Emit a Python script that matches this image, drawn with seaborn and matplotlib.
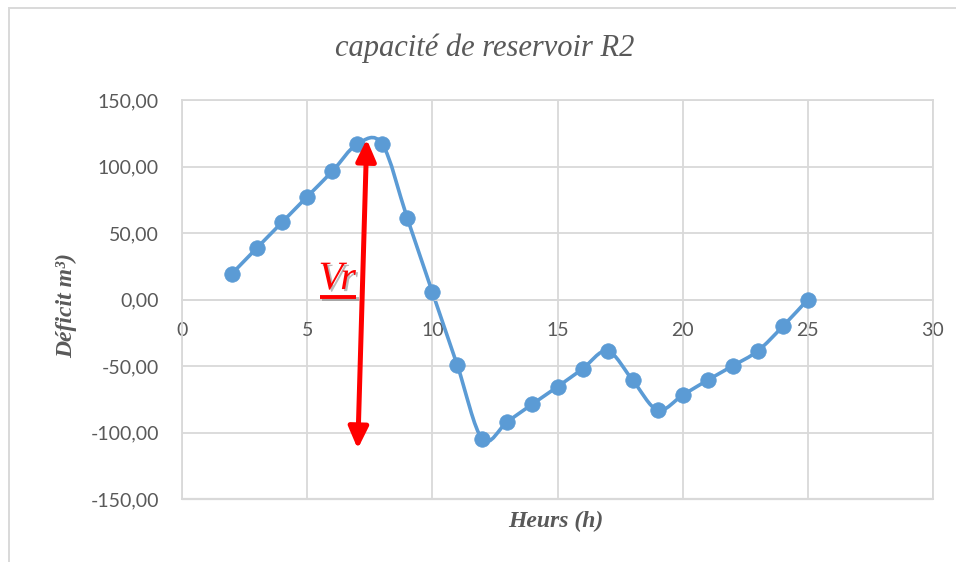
import numpy as np
import matplotlib
matplotlib.use("Agg")
import matplotlib.pyplot as plt
import matplotlib.patheffects as pe
import seaborn as sns
from matplotlib.path import Path
from matplotlib.patches import PathPatch, FancyArrowPatch, Rectangle
from matplotlib.ticker import FuncFormatter, MultipleLocator

# Cumulative deficit of reservoir R2 over the day
hours = [2, 3, 4, 5, 6, 7, 8, 9, 10, 11, 12, 13, 14, 15, 16, 17, 18, 19, 20, 21, 22, 23, 24, 25]
deficit = [19.5, 38.9, 58.1, 77.3, 96.3, 116.8, 116.8, 61.1, 5.6, -49.6, -105.0, -91.8,
           -78.6, -65.6, -52.2, -38.7, -60.6, -83.1, -71.9, -60.6, -49.9, -38.7, -20.2, 0.0]

title = "capacité de reservoir R2"
x_label = "Heurs (h)"
y_label = "Déficit m³)"
vr_label = "Vr"

# Volume arrow: from the lowest to the highest point of the curve
vr_bottom = (7.02, -112.3)
vr_top = (7.38, 120.5)

BLUE = "#5B9BD5"
GRID = "#D9D9D9"
TEXT = "#595959"

sns.set_style("white")
plt.rcParams["font.family"] = ["Lato", "DejaVu Sans"]

W, H = 956, 562
fig = plt.figure(figsize=(W / 100, H / 100), dpi=100)
ax = fig.add_axes([182 / W, 1 - 499 / H, (933 - 182) / W, (499 - 100) / H])

ax.set_xlim(0, 30)
ax.set_ylim(-150, 150)
ax.xaxis.set_major_locator(MultipleLocator(5))
ax.yaxis.set_major_locator(MultipleLocator(50))
ax.yaxis.set_major_formatter(FuncFormatter(lambda v, p: f"{v:.2f}".replace(".", ",")))
ax.xaxis.set_major_formatter(FuncFormatter(lambda v, p: f"{v:.0f}"))
ax.grid(True, color=GRID, lw=1.3)
ax.set_axisbelow(True)

for side in ["left", "right", "top", "bottom"]:
    ax.spines[side].set_color(GRID)
    ax.spines[side].set_linewidth(1.3)
# horizontal axis crosses at zero; keep the frame line at the bottom
ax.spines["bottom"].set_position(("data", 0))
ax.axhline(-150, color=GRID, lw=1.6, clip_on=False, zorder=0.5)

ax.tick_params(axis="both", length=0, labelsize=14, labelcolor=TEXT)
ax.tick_params(axis="y", pad=16.5)
ax.tick_params(axis="x", pad=16)

# Smoothed line through the points (cubic Bezier segments, Catmull-Rom tangents)
pts = np.column_stack([hours, deficit]).astype(float)
n = len(pts)
verts = [pts[0]]
codes = [Path.MOVETO]
for i in range(n - 1):
    p0 = pts[i - 1] if i > 0 else pts[i]
    p1 = pts[i]
    p2 = pts[i + 1]
    p3 = pts[i + 2] if i + 2 < n else pts[i + 1]
    c1 = p1 + (p2 - p0) / 6
    c2 = p2 - (p3 - p1) / 6
    verts += [c1, c2, p2]
    codes += [Path.CURVE4] * 3
ax.add_patch(PathPatch(Path(verts, codes), facecolor="none", edgecolor=BLUE,
                       lw=2.6, zorder=2, capstyle="round", joinstyle="round"))

sns.scatterplot(x=hours, y=deficit, ax=ax, color=BLUE, s=125, edgecolor=BLUE,
                linewidth=0.5, zorder=3, legend=False)

# Double-headed red arrow marking the reservoir volume
arrow = FancyArrowPatch(posA=vr_bottom, posB=vr_top,
                        arrowstyle="<|-|>,head_length=1.3,head_width=0.6",
                        mutation_scale=10, color="red", lw=3.6,
                        shrinkA=0, shrinkB=0, zorder=5)
ax.add_patch(arrow)

shadow = [pe.withSimplePatchShadow(offset=(1.5, -1.5), shadow_rgbFace="0.4", alpha=0.45)]
ax.text(6.2, 15.0, vr_label, color="red", fontsize=29, style="italic",
        family="Liberation Serif", ha="center", va="center", zorder=6,
        path_effects=shadow)
ax.plot([5.5, 6.97], [2.0, 2.0], color="red", lw=2.8, zorder=6, solid_capstyle="butt",
        path_effects=[pe.SimpleLineShadow(offset=(1.5, -1.5), shadow_color="0.4", alpha=0.45),
                      pe.Normal()])

# Titles
fig.text(485 / W, 1 - 48 / H, title, ha="center", va="center", fontsize=22,
         style="italic", family="Liberation Serif", color=TEXT)
fig.text(556 / W, 1 - 521 / H, x_label, ha="center", va="center", fontsize=17,
         style="italic", weight="bold", family="Liberation Serif", color=TEXT)
fig.text(67 / W, 1 - 305 / H, y_label, ha="center", va="center", fontsize=17,
         rotation=90, style="italic", weight="bold", family="Liberation Serif", color=TEXT)

# Chart-area frame
fig.add_artist(Rectangle((9 / W, -0.1), 1.2, (H - 8) / H + 0.1, transform=fig.transFigure,
                         facecolor="none", edgecolor=GRID, lw=1.4))

fig.savefig("out.png", dpi=100)
